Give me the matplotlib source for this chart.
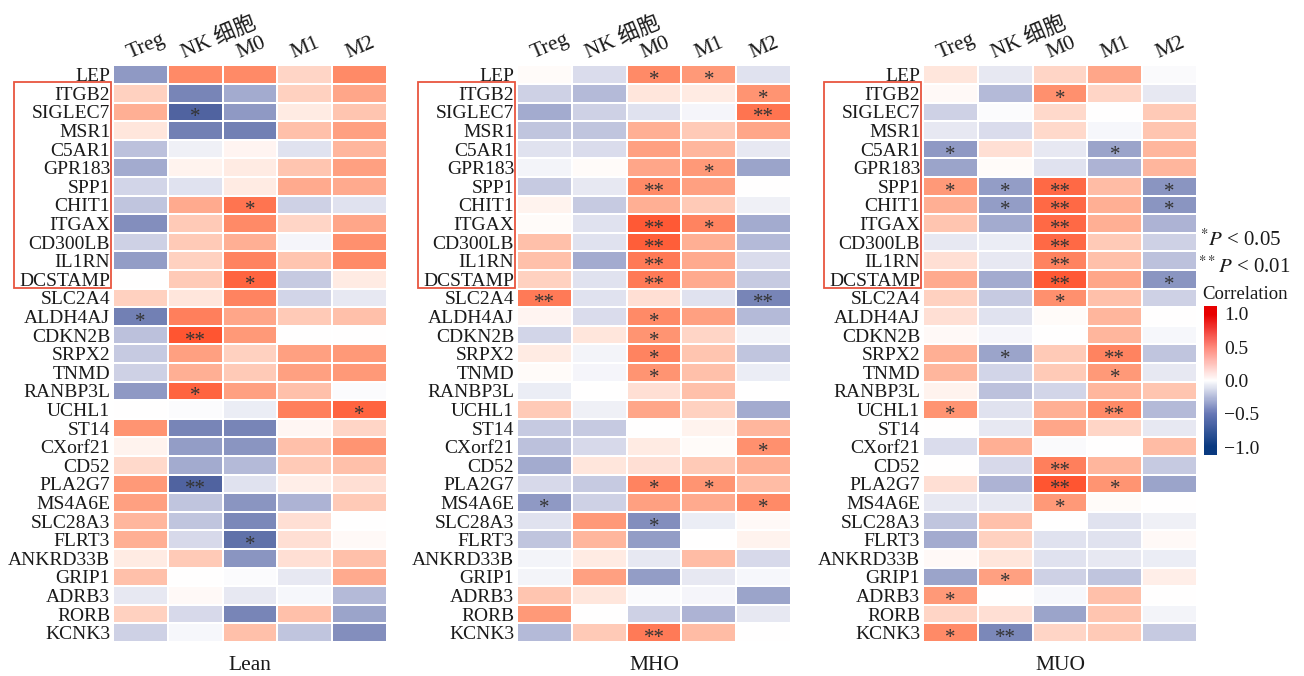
import numpy as np
import matplotlib
matplotlib.use("Agg")
import matplotlib.pyplot as plt
from matplotlib.colors import LinearSegmentedColormap, Normalize
from matplotlib.patches import Rectangle

plt.rcParams['font.family'] = ['Liberation Serif', 'Noto Sans CJK SC', 'DejaVu Sans']
plt.rcParams['mathtext.fontset'] = 'stix'

genes = ["LEP", "ITGB2", "SIGLEC7", "MSR1", "C5AR1", "GPR183", "SPP1", "CHIT1", "ITGAX",
         "CD300LB", "IL1RN", "DCSTAMP", "SLC2A4", "ALDH4AJ", "CDKN2B", "SRPX2", "TNMD",
         "RANBP3L", "UCHL1", "ST14", "CXorf21", "CD52", "PLA2G7", "MS4A6E", "SLC28A3",
         "FLRT3", "ANKRD33B", "GRIP1", "ADRB3", "RORB", "KCNK3"]
cells = ["Treg", "NK 细胞", "M0", "M1", "M2"]
groups = ["Lean", "MHO", "MUO"]

lean = [
    [-0.50, 0.55, 0.55, 0.20, 0.55],
    [0.22, -0.60, -0.42, 0.22, 0.42],
    [0.38, -0.78, -0.50, 0.10, 0.28],
    [0.12, -0.62, -0.62, 0.30, 0.45],
    [-0.32, -0.08, 0.05, -0.15, 0.35],
    [-0.42, 0.06, 0.10, 0.28, 0.45],
    [-0.22, -0.15, 0.10, 0.40, 0.40],
    [-0.30, 0.40, 0.65, -0.25, -0.15],
    [-0.55, 0.25, 0.55, 0.20, 0.42],
    [-0.25, 0.25, 0.38, -0.05, 0.52],
    [-0.48, 0.22, 0.58, 0.28, 0.55],
    [0.00, 0.25, 0.72, -0.28, 0.10],
    [0.22, 0.12, 0.58, -0.22, -0.12],
    [-0.62, 0.60, 0.42, 0.25, 0.30],
    [-0.32, 0.80, 0.48, 0.00, 0.00],
    [-0.28, 0.45, 0.22, 0.45, 0.48],
    [-0.25, 0.38, 0.25, 0.45, 0.48],
    [-0.50, 0.72, 0.45, 0.30, -0.02],
    [0.00, -0.02, -0.10, 0.60, 0.72],
    [0.50, -0.60, -0.60, 0.04, 0.20],
    [0.06, -0.48, -0.52, 0.30, 0.50],
    [0.18, -0.42, -0.35, 0.25, 0.30],
    [0.48, -0.78, -0.15, 0.08, 0.15],
    [0.45, -0.30, -0.52, -0.38, 0.25],
    [0.35, -0.30, -0.58, 0.15, 0.00],
    [0.38, -0.20, -0.70, 0.15, 0.03],
    [0.10, 0.25, -0.52, 0.15, 0.30],
    [0.30, 0.00, -0.02, -0.12, 0.40],
    [-0.12, 0.03, -0.12, -0.04, -0.35],
    [0.22, -0.20, -0.60, 0.30, -0.45],
    [-0.25, -0.04, 0.30, -0.30, -0.55],
]
mho = [
    [0.02, -0.18, 0.55, 0.48, -0.15],
    [-0.25, -0.35, 0.12, 0.10, 0.50],
    [-0.42, -0.25, -0.15, -0.05, 0.65],
    [-0.30, -0.30, 0.38, 0.25, 0.42],
    [-0.15, -0.18, 0.45, 0.35, -0.12],
    [-0.06, 0.02, 0.42, 0.48, -0.45],
    [-0.28, -0.12, 0.55, 0.45, 0.00],
    [0.06, -0.28, 0.38, 0.25, -0.08],
    [0.02, -0.15, 0.78, 0.58, -0.42],
    [0.30, -0.15, 0.75, 0.38, -0.35],
    [0.30, -0.42, 0.62, 0.40, -0.18],
    [0.22, -0.15, 0.62, 0.40, -0.28],
    [0.62, -0.15, 0.15, -0.15, -0.60],
    [0.05, -0.18, 0.55, 0.45, -0.35],
    [-0.22, 0.12, 0.50, 0.20, -0.06],
    [0.10, -0.06, 0.58, 0.28, -0.30],
    [0.02, -0.05, 0.50, 0.30, -0.10],
    [-0.10, 0.00, 0.15, 0.30, 0.00],
    [0.25, -0.08, 0.42, 0.22, -0.42],
    [-0.28, -0.28, 0.00, 0.06, 0.35],
    [-0.32, -0.20, 0.10, 0.02, 0.52],
    [-0.42, 0.12, 0.15, 0.25, 0.38],
    [-0.20, -0.28, 0.58, 0.50, 0.32],
    [-0.50, -0.25, 0.45, 0.40, 0.55],
    [-0.15, 0.48, -0.55, -0.10, 0.03],
    [-0.30, 0.35, -0.48, 0.00, 0.06],
    [-0.06, 0.10, -0.12, 0.32, -0.20],
    [-0.06, 0.45, -0.48, -0.12, -0.04],
    [0.28, 0.12, -0.03, -0.05, -0.45],
    [0.48, 0.00, -0.25, -0.38, -0.12],
    [-0.35, 0.25, 0.62, 0.32, 0.00],
]
muo = [
    [0.12, -0.12, 0.20, 0.42, -0.03],
    [0.03, -0.35, 0.52, 0.20, -0.12],
    [-0.25, -0.02, 0.18, 0.00, 0.25],
    [-0.12, -0.18, 0.18, -0.04, 0.28],
    [-0.50, 0.15, -0.12, -0.45, 0.35],
    [-0.45, 0.02, -0.15, -0.38, 0.35],
    [0.48, -0.48, 0.70, 0.32, -0.52],
    [0.38, -0.48, 0.70, 0.38, -0.52],
    [0.28, -0.42, 0.70, 0.38, -0.38],
    [-0.12, -0.10, 0.70, 0.25, -0.25],
    [0.15, -0.12, 0.58, 0.30, -0.32],
    [0.40, -0.42, 0.78, 0.42, -0.52],
    [0.22, -0.28, 0.52, 0.30, -0.25],
    [0.15, -0.15, 0.02, 0.35, 0.00],
    [0.03, -0.05, 0.00, 0.35, -0.04],
    [0.38, -0.45, 0.25, 0.58, -0.30],
    [0.35, -0.22, 0.25, 0.48, -0.12],
    [0.06, -0.32, -0.22, 0.35, 0.28],
    [0.50, -0.15, 0.38, 0.55, -0.35],
    [0.00, -0.12, 0.42, 0.20, -0.12],
    [-0.18, 0.38, -0.03, 0.00, 0.32],
    [0.00, -0.20, 0.60, 0.35, -0.28],
    [0.15, -0.38, 0.80, 0.50, -0.45],
    [-0.12, -0.12, 0.48, 0.02, 0.00],
    [-0.30, 0.30, 0.00, -0.15, -0.08],
    [-0.42, 0.22, -0.15, -0.15, 0.03],
    [0.03, 0.12, -0.15, -0.12, -0.10],
    [-0.45, 0.45, -0.25, -0.30, 0.08],
    [0.48, 0.00, -0.04, 0.30, 0.00],
    [0.20, 0.15, -0.45, 0.28, -0.06],
    [0.55, -0.58, 0.20, 0.25, -0.28],
]

# significance marks: (gene, cell index, mark)
sig_lean = [("SIGLEC7", 1, "*"), ("CHIT1", 2, "*"), ("DCSTAMP", 2, "*"), ("ALDH4AJ", 0, "*"),
            ("CDKN2B", 1, "**"), ("RANBP3L", 1, "*"), ("UCHL1", 4, "*"), ("PLA2G7", 1, "**"),
            ("FLRT3", 2, "*")]
sig_mho = [("LEP", 2, "*"), ("LEP", 3, "*"), ("ITGB2", 4, "*"), ("SIGLEC7", 4, "**"),
           ("GPR183", 3, "*"), ("SPP1", 2, "**"), ("ITGAX", 2, "**"), ("ITGAX", 3, "*"),
           ("CD300LB", 2, "**"), ("IL1RN", 2, "**"), ("DCSTAMP", 2, "**"), ("SLC2A4", 0, "**"),
           ("SLC2A4", 4, "**"), ("ALDH4AJ", 2, "*"), ("CDKN2B", 2, "*"), ("SRPX2", 2, "*"),
           ("TNMD", 2, "*"), ("CXorf21", 4, "*"), ("PLA2G7", 2, "*"), ("PLA2G7", 3, "*"),
           ("MS4A6E", 0, "*"), ("MS4A6E", 4, "*"), ("SLC28A3", 2, "*"), ("KCNK3", 2, "**")]
sig_muo = [("ITGB2", 2, "*"), ("C5AR1", 0, "*"), ("C5AR1", 3, "*"), ("SPP1", 0, "*"),
           ("SPP1", 1, "*"), ("SPP1", 2, "**"), ("SPP1", 4, "*"), ("CHIT1", 1, "*"),
           ("CHIT1", 2, "**"), ("CHIT1", 4, "*"), ("ITGAX", 2, "**"), ("CD300LB", 2, "**"),
           ("IL1RN", 2, "**"), ("DCSTAMP", 2, "**"), ("DCSTAMP", 4, "*"), ("SLC2A4", 2, "*"),
           ("SRPX2", 1, "*"), ("SRPX2", 3, "**"), ("TNMD", 3, "*"), ("UCHL1", 0, "*"),
           ("UCHL1", 3, "**"), ("CD52", 2, "**"), ("PLA2G7", 2, "**"), ("PLA2G7", 3, "*"),
           ("MS4A6E", 2, "*"), ("GRIP1", 1, "*"), ("ADRB3", 0, "*"), ("KCNK3", 0, "*"),
           ("KCNK3", 1, "**")]

boxed = ["ITGB2", "DCSTAMP"]

cell_cmap = LinearSegmentedColormap.from_list("cells", [
    (0.0, "#2e4488"), (0.125, "#5567a3"), (0.25, "#8f99c4"), (0.375, "#cdd0e5"),
    (0.5, "#ffffff"), (0.625, "#ffcbb8"), (0.75, "#ff9573"), (0.875, "#ff5f3a"), (1.0, "#ff3010")])
bar_cmap = LinearSegmentedColormap.from_list("bar", [
    (0.0, "#0a3a80"), (0.25, "#6878b6"), (0.5, "#ffffff"), (0.75, "#ff8a7c"), (1.0, "#e80000")])
norm = Normalize(-1, 1)

W, H = 1304, 676
fig = plt.figure(figsize=(W / 100, H / 100), dpi=100)


def px_axes(x0, y0, x1, y1):
    return fig.add_axes([x0 / W, 1 - y1 / H, (x1 - x0) / W, (y1 - y0) / H])


TXT = "#1a1a1a"
lefts = [113, 517, 923]
top, bottom = 65.5, 642
colw = 274 / 5
n = len(genes)
rowh = (bottom - top) / n

for data, sig, name, x0 in zip([lean, mho, muo], [sig_lean, sig_mho, sig_muo], groups, lefts):
    ax = px_axes(x0, top, x0 + 274, bottom)
    arr = np.array(data)
    ax.pcolormesh(np.arange(6), np.arange(n + 1), arr, cmap=cell_cmap, norm=norm,
                  edgecolors="white", linewidth=1.1)
    ax.set_xlim(0, 5)
    ax.set_ylim(n, 0)
    for s in ax.spines.values():
        s.set_visible(False)
    ax.set_xticks([])
    ax.set_yticks(np.arange(n) + 0.5)
    ax.set_yticklabels(genes, fontsize=14, color=TXT)
    ax.tick_params(axis="y", length=0, pad=2)
    for j, c in enumerate(cells):
        ax.text(j + 0.5 - 11 / colw, -7.5 / rowh, c, rotation=23, ha="left", va="baseline",
                rotation_mode="anchor", fontsize=15.5, color=TXT, clip_on=False)
    for g, j, m in sig:
        i = genes.index(g)
        ax.text(j + 0.5, i + 0.5 + 0.32, m, ha="center", va="center", fontsize=15, color="#333333")
    ax.text(2.5, (665 - top) / rowh, name, ha="center", va="center", fontsize=15.5, color=TXT,
            clip_on=False)
    i0, i1 = genes.index(boxed[0]), genes.index(boxed[1])
    ax.add_patch(Rectangle((-99 / colw, i0 - 0.12), 97 / colw, (i1 + 0.95) - (i0 - 0.12),
                           fill=False, edgecolor="#e8553f", linewidth=1.3, clip_on=False))

# legend texts
fig.text(1200 / W, 1 - 246 / H, r"$^{*}P$ < 0.05", fontsize=15, color=TXT, ha="left",
         va="baseline")
fig.text(1198 / W, 1 - 273 / H, r"$^{**}P$ < 0.01", fontsize=15, color=TXT, ha="left",
         va="baseline")
fig.text(1202 / W, 1 - 299 / H, "Correlation", fontsize=13.5, color=TXT, ha="left", va="baseline")

cax = px_axes(1204, 306, 1217, 455)
lim = 1.12
grad = np.linspace(-lim, lim, 300).reshape(-1, 1)
cax.imshow(grad, cmap=bar_cmap, norm=norm, aspect="auto", origin="lower",
           extent=[0, 1, -lim, lim])
cax.set_xticks([])
cax.yaxis.tick_right()
ticks = [1.0, 0.5, 0.0, -0.5, -1.0]
cax.set_yticks(ticks)
cax.set_yticklabels([f"{t:.1f}".replace("-", "\u2212") for t in ticks], fontsize=14, color=TXT)
cax.tick_params(axis="y", length=0, pad=5)
cax.set_ylim(-lim, lim)
for s in cax.spines.values():
    s.set_visible(False)

fig.savefig("out.png", dpi=100)
